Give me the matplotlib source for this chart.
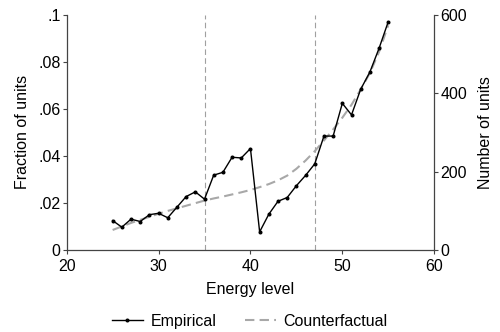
import matplotlib
matplotlib.use("Agg")
import matplotlib.pyplot as plt

plt.rcParams['font.family'] = ['Liberation Sans', 'DejaVu Sans']

# Energy levels and observed fraction of units at each level
energy = list(range(25, 56))
empirical = [0.0125, 0.0097, 0.0131, 0.0121, 0.0150, 0.0156, 0.0137, 0.0182,
             0.0227, 0.0247, 0.0216, 0.0318, 0.0330, 0.0394, 0.0391, 0.0431,
             0.0077, 0.0152, 0.0207, 0.0223, 0.0273, 0.0317, 0.0366, 0.0484,
             0.0484, 0.0623, 0.0574, 0.0683, 0.0756, 0.0857, 0.0970]
# Counterfactual fraction of units
counterfactual = [0.0085, 0.0100, 0.0115, 0.0128, 0.0141, 0.0154, 0.0166, 0.0177,
                  0.0188, 0.0199, 0.0210, 0.0219, 0.0227, 0.0236, 0.0245, 0.0255,
                  0.0267, 0.0280, 0.0296, 0.0316, 0.0345, 0.0380, 0.0420, 0.0465,
                  0.0512, 0.0562, 0.0617, 0.0682, 0.0752, 0.0842, 0.0955]
thresholds = [35, 47]

x_ticks = [20, 30, 40, 50, 60]
y_ticks = [0, 0.02, 0.04, 0.06, 0.08, 0.1]
y_tick_labels = ['0', '.02', '.04', '.06', '.08', '.1']
right_ticks = [0, 200, 400, 600]

fig = plt.figure(figsize=(5, 3.32), dpi=100)
ax = fig.add_axes([0.1334, 0.247, 0.735, 0.709])

axis_color = '#444444'
fs = 11.5

for t in thresholds:
    ax.axvline(t, color='#a0a0a0', lw=0.8, ls=(0, (5, 3)), zorder=1)

ln_emp, = ax.plot(energy, empirical, color='black', lw=1.0, marker='o',
                  ms=1.9, zorder=3, label='Empirical')
ln_cf, = ax.plot(energy, counterfactual, color='#a8a8a8', lw=1.5,
                 ls=(0, (4.5, 2.5)), zorder=2, label='Counterfactual')

ax.set_xlim(20, 60)
ax.set_ylim(0, 0.1)
ax.set_xticks(x_ticks)
ax.set_yticks(y_ticks)
ax.set_yticklabels(y_tick_labels)

for side in ['top', 'right']:
    ax.spines[side].set_visible(False)
for side in ['left', 'bottom']:
    ax.spines[side].set_color(axis_color)
    ax.spines[side].set_linewidth(0.9)
ax.tick_params(direction='out', length=3, width=0.8, color=axis_color,
               labelsize=fs, pad=1.5)
ax.tick_params(axis='x', pad=3.5)

ax.set_xlabel('Energy level', fontsize=fs, labelpad=6)
ax.set_ylabel('Fraction of units', fontsize=fs, labelpad=6)

ax2 = ax.twinx()
ax2.set_ylim(0, 600)
ax2.set_yticks(right_ticks)
for side in ['top', 'left', 'bottom']:
    ax2.spines[side].set_visible(False)
ax2.spines['right'].set_color(axis_color)
ax2.spines['right'].set_linewidth(0.9)
ax2.tick_params(direction='out', length=3, width=0.8, color=axis_color,
                labelsize=fs, pad=1.5)
ax2.set_ylabel('Number of units', fontsize=fs, labelpad=8)

fig.legend(handles=[ln_emp, ln_cf], loc='center', bbox_to_anchor=(0.5, 0.032),
           ncol=2, frameon=False, fontsize=fs, handlelength=1.9,
           columnspacing=1.8, handletextpad=0.5)

fig.savefig('out.png', dpi=100, facecolor='white')
